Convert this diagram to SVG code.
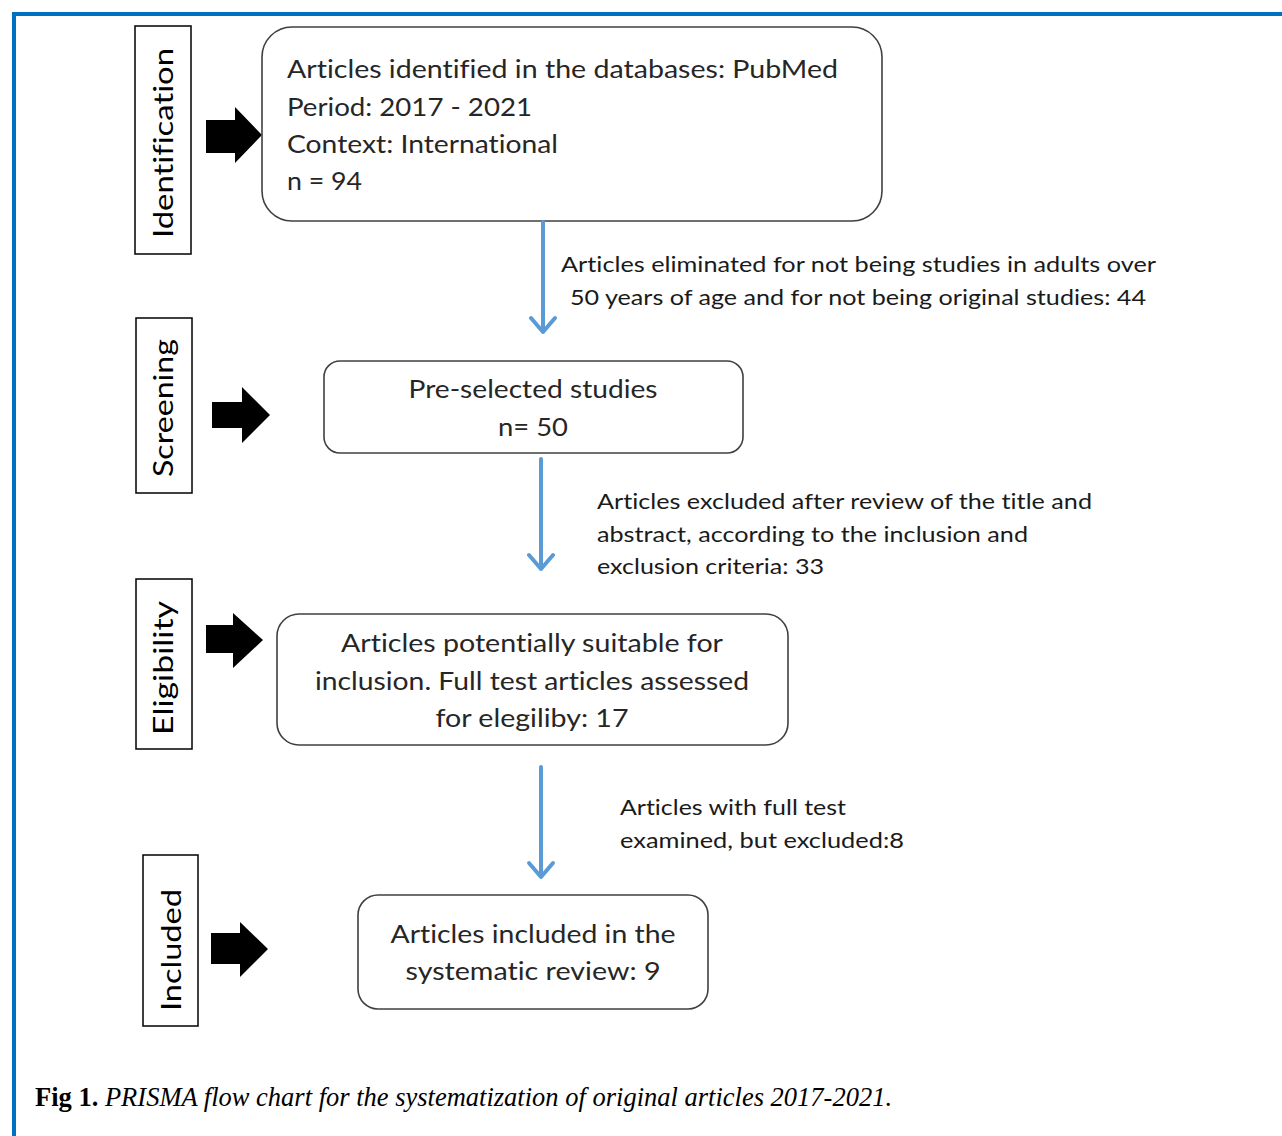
<svg xmlns="http://www.w3.org/2000/svg" width="1282" height="1136" viewBox="0 0 1282 1136">
<defs>
<style>
text{font-variant-ligatures:none;font-feature-settings:"liga" 0}
.frame{fill:none;stroke:#0070C0;stroke-width:4}
.stage{fill:#fff;stroke:#000;stroke-width:1.5}
.stxt{font-family:Lato,"Open Sans",sans-serif;font-size:27px;fill:#000}
.box{fill:#fff;stroke:#404040;stroke-width:1.6}
.btxt{font-family:Lato,"Open Sans",sans-serif;font-size:25px;fill:#262626}
.ltxt{font-family:Lato,"Open Sans",sans-serif;font-size:22px;fill:#1a1a1a}
.blk{fill:#000}
.conn{fill:none;stroke:#5B9BD5;stroke-width:4;stroke-linecap:round;stroke-linejoin:round}
.cap{font-family:"Liberation Serif","Times New Roman",serif;font-size:26.5px;fill:#000}
</style>
</defs>
<rect width="1282" height="1136" fill="#fff"/>
<path class="frame" d="M14,1140 V14 H1290"/>

<g id="stage-identification">
<rect class="stage" x="135" y="26" width="56" height="228"/>
<text class="stxt" transform="translate(173,143) rotate(-90)" text-anchor="middle" textLength="190" lengthAdjust="spacingAndGlyphs">Identification</text>
<polygon class="blk" points="206,120 235,120 235,107 262,135 235,163 235,153 206,153"/>
</g>
<g id="stage-screening">
<rect class="stage" x="136" y="318" width="56" height="175"/>
<text class="stxt" transform="translate(173,408) rotate(-90)" text-anchor="middle" textLength="138" lengthAdjust="spacingAndGlyphs">Screening</text>
<polygon class="blk" points="212,402 242,402 242,387 270,415 242,443 242,428 212,428"/>
</g>
<g id="stage-eligibility">
<rect class="stage" x="136" y="579" width="56" height="170"/>
<text class="stxt" transform="translate(173,668) rotate(-90)" text-anchor="middle" textLength="134" lengthAdjust="spacingAndGlyphs">Eligibility</text>
<polygon class="blk" points="206,625 233,625 233,613 263,640 233,668 233,653 206,653"/>
</g>
<g id="stage-included">
<rect class="stage" x="143" y="855" width="55" height="171"/>
<text class="stxt" transform="translate(181,950) rotate(-90)" text-anchor="middle" textLength="122" lengthAdjust="spacingAndGlyphs">Included</text>
<polygon class="blk" points="211,933 240,933 240,922 268,949 240,977 240,964 211,964"/>
</g>

<g id="node-identified">
<rect class="box" x="262" y="27" width="620" height="194" rx="30" ry="30"/>
<text class="btxt" x="287" y="78" textLength="551" lengthAdjust="spacingAndGlyphs">Articles identified in the databases: PubMed</text>
<text class="btxt" x="287" y="116" textLength="245" lengthAdjust="spacingAndGlyphs">Period: 2017 - 2021</text>
<text class="btxt" x="287" y="153" textLength="271" lengthAdjust="spacingAndGlyphs">Context: International</text>
<text class="btxt" x="287" y="190" textLength="75" lengthAdjust="spacingAndGlyphs">n = 94</text>
</g>
<g id="node-preselected">
<rect class="box" x="324" y="361" width="419" height="92" rx="16" ry="16"/>
<text class="btxt" x="533" y="398" text-anchor="middle" textLength="249" lengthAdjust="spacingAndGlyphs">Pre-selected  studies</text>
<text class="btxt" x="533" y="436" text-anchor="middle" textLength="70" lengthAdjust="spacingAndGlyphs">n= 50</text>
</g>
<g id="node-eligible">
<rect class="box" x="277" y="614" width="511" height="131" rx="22" ry="22"/>
<text class="btxt" x="532" y="652" text-anchor="middle" textLength="382" lengthAdjust="spacingAndGlyphs">Articles potentially suitable for</text>
<text class="btxt" x="532" y="690" text-anchor="middle" textLength="434" lengthAdjust="spacingAndGlyphs">inclusion. Full test articles assessed</text>
<text class="btxt" x="532" y="727" text-anchor="middle" textLength="193" lengthAdjust="spacingAndGlyphs">for elegiliby: 17</text>
</g>
<g id="node-included">
<rect class="box" x="358" y="895" width="350" height="114" rx="20" ry="20"/>
<text class="btxt" x="533" y="943" text-anchor="middle" textLength="285" lengthAdjust="spacingAndGlyphs">Articles included in the</text>
<text class="btxt" x="533" y="980" text-anchor="middle" textLength="255" lengthAdjust="spacingAndGlyphs">systematic review: 9</text>
</g>

<g id="connectors">
<path class="conn" d="M543,222 V332 M531,318 L543,332 L555,318"/>
<path class="conn" d="M541,459 V569 M529,555 L541,569 L553,555"/>
<path class="conn" d="M541,767 V877 M529,863 L541,877 L553,863"/>
<text class="ltxt" x="561" y="272" textLength="595" lengthAdjust="spacingAndGlyphs">Articles eliminated for not being studies in adults over</text>
<text class="ltxt" x="570" y="305" textLength="576" lengthAdjust="spacingAndGlyphs">50 years of age and for not being original studies: 44</text>
<text class="ltxt" x="597" y="509" textLength="495" lengthAdjust="spacingAndGlyphs">Articles excluded after review of the title  and</text>
<text class="ltxt" x="597" y="542" textLength="431" lengthAdjust="spacingAndGlyphs">abstract, according to the inclusion and</text>
<text class="ltxt" x="597" y="574" textLength="227" lengthAdjust="spacingAndGlyphs">exclusion criteria: 33</text>
<text class="ltxt" x="620" y="815" textLength="226" lengthAdjust="spacingAndGlyphs">Articles with full test</text>
<text class="ltxt" x="620" y="848" textLength="284" lengthAdjust="spacingAndGlyphs">examined, but excluded:8</text>
</g>

<text class="cap" x="35" y="1106"><tspan font-weight="bold">Fig 1.</tspan><tspan font-style="italic"> PRISMA flow chart for the systematization of original articles 2017-2021.</tspan></text>
</svg>
